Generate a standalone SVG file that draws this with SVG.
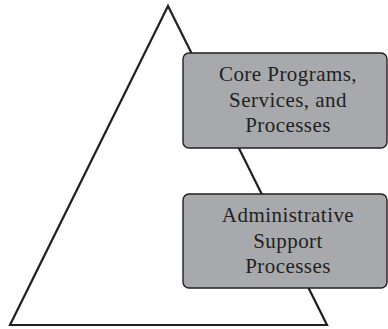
<svg xmlns="http://www.w3.org/2000/svg" width="388" height="329" viewBox="0 0 388 329">
<style>
.box{fill:#a7a9ac;stroke:#231f20;stroke-width:1.4}
.lbl{font-family:"Liberation Serif","Times New Roman",serif;font-size:21px;letter-spacing:0.45px;fill:#231f20;text-anchor:middle}
.tri{fill:none;stroke:#231f20;stroke-width:2.2;stroke-linejoin:miter}
</style>
<rect width="388" height="329" fill="#ffffff"/>
<g id="connectors">
<polygon id="pyramid" class="tri" points="168,6 327,325 10,325"/>
</g>
<g id="core">
<rect class="box" x="183" y="53" width="204" height="95" rx="6"/>
<text class="lbl" x="288" y="81">Core Programs,</text>
<text class="lbl" x="288" y="107">Services, and</text>
<text class="lbl" x="288" y="132">Processes</text>
</g>
<g id="admin">
<rect class="box" x="183" y="194" width="204" height="94" rx="6"/>
<text class="lbl" x="288" y="222">Administrative</text>
<text class="lbl" x="288" y="248">Support</text>
<text class="lbl" x="288" y="273">Processes</text>
</g>
</svg>
